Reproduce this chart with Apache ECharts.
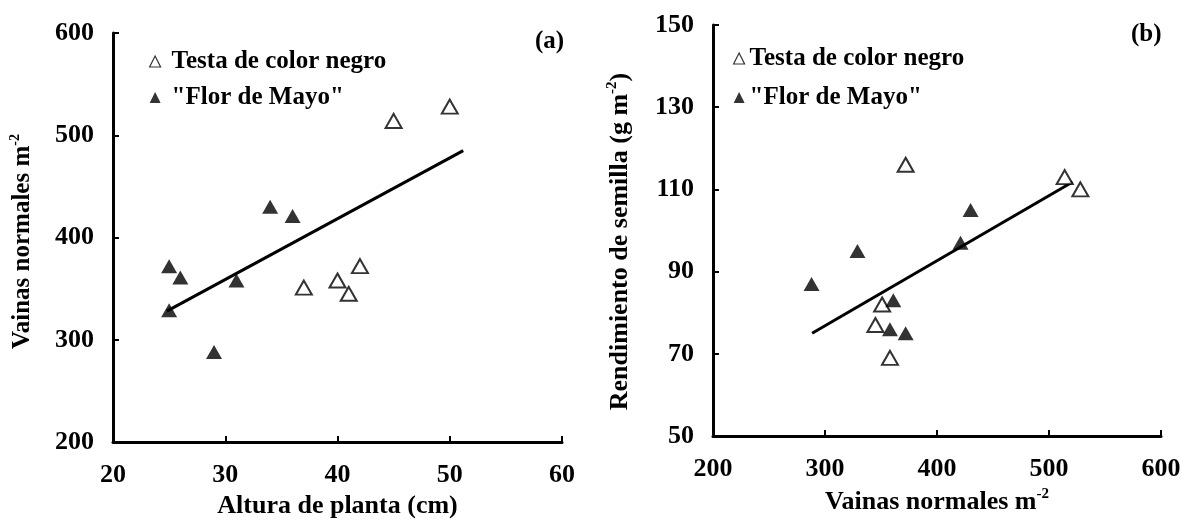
<!DOCTYPE html>
<html>
<head>
<meta charset="utf-8">
<script src="https://cdn.jsdelivr.net/npm/echarts@6/dist/echarts.min.js"></script>
<style>
html,body{margin:0;padding:0;background:#fff;}
#c{width:1190px;height:524px;}
</style>
</head>
<body>
<div id="c"></div>
<script>
// ---- Data ----
var seriesNames = ['Testa de color negro', '"Flor de Mayo"'];

// Panel (a): Altura de planta (cm) vs Vainas normales m-2
var aOpenX = [37, 40, 41, 42, 45, 50];
var aOpenY = [351, 358, 345, 372, 514, 528];
var aFilledX = [25, 26, 25, 29, 31, 34, 36];
var aFilledY = [372, 361, 329, 288, 358, 430, 421];
var aTrendX = [24.8, 51.2];
var aTrendY = [328, 485];

// Panel (b): Vainas normales m-2 vs Rendimiento de semilla (g m-2)
var bOpenX = [372, 351, 345, 358, 514, 528];
var bOpenY = [116, 82, 77, 69, 113, 110];
var bFilledX = [288, 329, 361, 358, 372, 421, 430];
var bFilledY = [87, 95, 83, 76, 75, 97, 105];
var bTrendX = [288.5, 521];
var bTrendY = [75, 111.8];

// Axis ticks
var aXTicks = {min: 20, max: 60, interval: 10};
var aYTicks = {min: 200, max: 600, interval: 100};
var bXTicks = {min: 200, max: 600, interval: 100};
var bYTicks = {min: 50, max: 150, interval: 20};

function pairs(xs, ys) { return xs.map(function (x, i) { return [x, ys[i]]; }); }

var FONT = '"Liberation Serif", "Times New Roman", serif';
function rich(size) {
  return {
    n: {fontSize: size, fontWeight: 'bold', fontFamily: FONT, color: '#000', lineHeight: size + 4},
    s: {fontSize: Math.round(size * 0.58), fontWeight: 'bold', fontFamily: FONT, color: '#000', lineHeight: Math.round(size * 0.58), verticalAlign: 'top'}
  };
}

function xAxis(gi, t, name, gap, size) {
  return {
    type: 'value', gridIndex: gi, min: t.min, max: t.max, interval: t.interval,
    name: name, nameLocation: 'middle', nameGap: gap,
    nameTextStyle: {rich: rich(size)},
    axisLine: {show: true, lineStyle: {color: '#000', width: 3}},
    axisTick: {show: true, inside: true, length: 6, lineStyle: {color: '#000', width: 2}},
    axisLabel: {color: '#000', fontFamily: FONT, fontWeight: 'bold', fontSize: 26, margin: 20},
    splitLine: {show: false}
  };
}
function yAxis(gi, t, name, gap, size, pad) {
  return {
    type: 'value', gridIndex: gi, min: t.min, max: t.max, interval: t.interval,
    name: name, nameLocation: 'middle', nameGap: gap, nameRotate: 90,
    nameTextStyle: {rich: rich(size), padding: pad},
    axisLine: {show: true, lineStyle: {color: '#000', width: 3}},
    axisTick: {show: true, inside: true, length: 6, lineStyle: {color: '#000', width: 2}},
    axisLabel: {color: '#000', fontFamily: FONT, fontWeight: 'bold', fontSize: 26, margin: 19},
    splitLine: {show: false}
  };
}

var openStyle = {color: '#fff', borderColor: '#000', borderWidth: 2};
var filledStyle = {color: '#000', borderColor: '#000', borderWidth: 0};

function scatter(name, gi, data, style) {
  return {
    type: 'scatter', name: name, xAxisIndex: gi, yAxisIndex: gi,
    data: data, symbol: 'triangle', symbolSize: [16, 14],
    itemStyle: style, z: 3
  };
}
function trend(gi, data) {
  return {
    type: 'line', xAxisIndex: gi, yAxisIndex: gi, data: data,
    symbol: 'none', lineStyle: {color: '#000', width: 3}, z: 2, silent: true
  };
}

function legend(left, top, gapText, itemGap) {
  return {
    left: left, top: top, orient: 'vertical', itemGap: itemGap,
    itemWidth: 11, itemHeight: 11,
    textStyle: {color: '#000', fontFamily: FONT, fontWeight: 'bold', fontSize: 25, padding: [0, 0, 0, gapText]},
    data: [
      {name: seriesNames[0], icon: 'triangle', itemStyle: {color: '#fff', borderColor: '#000', borderWidth: 1.2}},
      {name: seriesNames[1], icon: 'triangle', itemStyle: {color: '#000', borderWidth: 0}}
    ],
    selectedMode: false
  };
}

var chart = echarts.init(document.getElementById('c'), null, {renderer: 'canvas'});
chart.setOption({
  animation: false,
  backgroundColor: '#fff',
  grid: [
    {left: 113, top: 33, width: 449, height: 416},
    {left: 713, top: 25, width: 448, height: 411}
  ],
  xAxis: [
    xAxis(0, aXTicks, '{n|Altura de planta (cm)}', 47, 26),
    xAxis(1, bXTicks, '{n|Vainas normales m}{s|-2}', 51, 26)
  ],
  yAxis: [
    yAxis(0, aYTicks, '{n|Vainas normales m}{s|-2}', 76, 25, [0, 8, 0, 0]),
    yAxis(1, bYTicks, '{n|Rendimiento de semilla (g m}{s|-2}{n|)}', 78, 26, [0, 22, 0, 0])
  ],
  legend: [legend(144, 44, 6, 11), legend(728, 41, 0, 14)],
  graphic: [
    {type: 'text', left: 535, top: 29, style: {text: '(a)', fill: '#000', font: 'bold 25px ' + FONT}},
    {type: 'text', left: 1131, top: 22, style: {text: '(b)', fill: '#000', font: 'bold 25px ' + FONT}}
  ],
  series: [
    trend(0, pairs(aTrendX, aTrendY)),
    scatter(seriesNames[0], 0, pairs(aOpenX, aOpenY), openStyle),
    scatter(seriesNames[1], 0, pairs(aFilledX, aFilledY), filledStyle),
    trend(1, pairs(bTrendX, bTrendY)),
    scatter(seriesNames[0], 1, pairs(bOpenX, bOpenY), openStyle),
    scatter(seriesNames[1], 1, pairs(bFilledX, bFilledY), filledStyle)
  ]
});
</script>
</body>
</html>
